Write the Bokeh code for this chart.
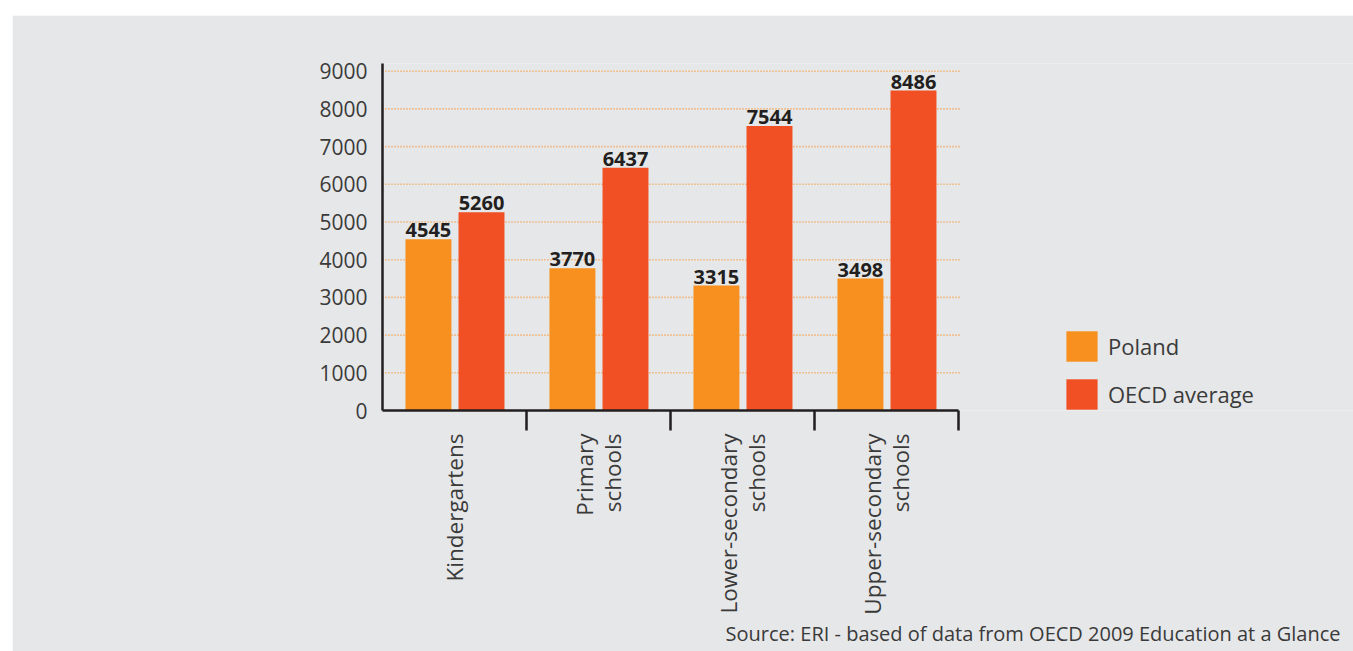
import math
from bokeh.plotting import figure
from bokeh.models import Range1d, FixedTicker, Legend, LegendItem, Title, ColumnDataSource
from bokeh.core.properties import value
from bokeh.embed import file_html
from bokeh.resources import INLINE

# Expenditure per student by level of education (USD)
categories = ["Kindergartens", "Primary\nschools", "Lower-secondary\nschools", "Upper-secondary\nschools"]
poland = [4545, 3770, 3315, 3498]
oecd_average = [5260, 6437, 7544, 8486]
series_names = ["Poland", "OECD average"]
y_ticks = [0, 1000, 2000, 3000, 4000, 5000, 6000, 7000, 8000, 9000]
source_note = "Source: ERI - based of data from OECD 2009 Education at a Glance"

FONT = "Open Sans"
BG = "#e6e7e8"
INK = "#231f20"
TEXT = "#3a3a3a"
ORANGE = "#f7901e"
RED = "#f05023"
GRID = "#f59a40"

n = len(categories)
bar_w = 0.319
pol_x = [i + 0.319 for i in range(n)]
oecd_x = [i + 0.6875 for i in range(n)]

# the frame runs on to the right edge so the legend sits inside it;
# the category axis only spans the first n units
CAT_PX = 144.0
FRAME_W = 1341 - 370
x_end = FRAME_W / CAT_PX

pol_src = ColumnDataSource(dict(x=pol_x, top=poland, lbl=[str(v) for v in poland]))
oecd_src = ColumnDataSource(dict(x=oecd_x, top=oecd_average, lbl=[str(v) for v in oecd_average]))

p = figure(width=1341, height=636,
           x_range=Range1d(0, x_end), y_range=Range1d(0, 9204),
           output_backend="svg", toolbar_location=None,
           min_border_left=370, min_border_right=0,
           min_border_top=48, min_border_bottom=241,
           background_fill_color=BG, border_fill_color=BG,
           outline_line_color=None)
p.margin = (15, 0, 0, 12)

# dotted horizontal guides across the category area
grid_y = y_ticks[1:]
p.segment(x0=[0] * len(grid_y), x1=[n + 0.02] * len(grid_y), y0=grid_y, y1=grid_y,
          line_color=GRID, line_width=1.6, line_dash="1 2")

r_pol = p.vbar(x="x", top="top", bottom=0, width=bar_w, source=pol_src,
               fill_color=ORANGE, line_color=None)
r_oecd = p.vbar(x="x", top="top", bottom=0, width=bar_w, source=oecd_src,
                fill_color=RED, line_color=None)

for src in (pol_src, oecd_src):
    p.text(x="x", y="top", text="lbl", source=src, text_align="center",
           text_baseline="bottom", y_offset=-2,
           text_font=value(FONT), text_font_size="20px",
           text_font_style="bold", text_color=INK)

# x axis: category names at centres, boundary ticks as minor ticks
xa = p.xaxis[0]
xa.bounds = (0, n)
xa.ticker = FixedTicker(ticks=[i + 0.5 for i in range(n)],
                        minor_ticks=[i + 1 for i in range(n)])
xa.major_label_overrides = {i + 0.5: c for i, c in enumerate(categories)}
xa.major_label_orientation = math.pi / 2
xa.major_tick_line_color = None
xa.major_tick_in = 0
xa.major_tick_out = 20
xa.minor_tick_in = 0
xa.minor_tick_out = 20
xa.minor_tick_line_color = INK
xa.minor_tick_line_width = 2.5
xa.axis_line_color = INK
xa.axis_line_width = 2.5
xa.major_label_standoff = 3
xa.major_label_text_font = FONT
xa.major_label_text_font_size = "22.5px"
xa.major_label_text_line_height = 0.9
xa.major_label_text_color = TEXT

ya = p.yaxis[0]
ya.ticker = FixedTicker(ticks=y_ticks)
ya.major_tick_line_color = None
ya.minor_tick_line_color = None
ya.major_tick_in = 0
ya.major_tick_out = 0
ya.axis_line_color = INK
ya.axis_line_width = 2.5
ya.major_label_standoff = 15
ya.major_label_text_font = FONT
ya.major_label_text_font_size = "21px"
ya.major_label_text_color = TEXT

p.xgrid.visible = False
p.ygrid.visible = False

legend = Legend(items=[LegendItem(label=series_names[0], renderers=[r_pol]),
                       LegendItem(label=series_names[1], renderers=[r_oecd])],
                location=(680, -3), orientation="vertical",
                glyph_width=39, glyph_height=38, spacing=10, label_standoff=7,
                padding=0, margin=0, border_line_color=None,
                background_fill_alpha=0,
                label_text_font=FONT, label_text_font_size="22px",
                label_text_color=TEXT)
p.add_layout(legend)

p.add_layout(Title(text=source_note, align="right", offset=13, standoff=1,
                   text_font=FONT, text_font_size="20px",
                   text_font_style="normal", text_color=TEXT), "below")

open("out.html", "w").write(file_html(p, INLINE))
